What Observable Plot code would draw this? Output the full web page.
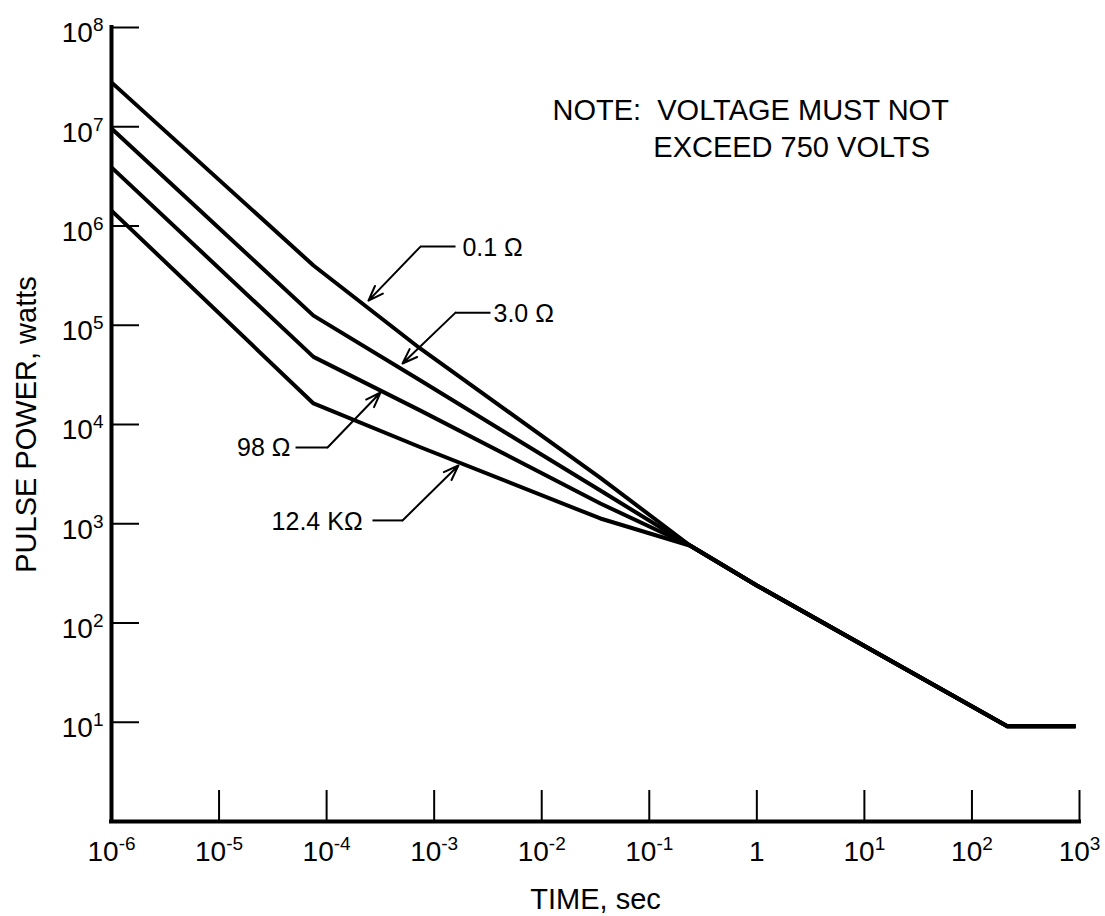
<!DOCTYPE html>
<html>
<head>
<meta charset="utf-8">
<script src="https://cdn.jsdelivr.net/npm/d3@7"></script>
<script src="https://cdn.jsdelivr.net/npm/@observablehq/plot@0.6"></script>
<style>
  body { margin: 0; background: #fff; }
  svg { font-family: "Liberation Sans", Arial, Helvetica, sans-serif; }
</style>
</head>
<body>
<div id="chart"></div>
<script>
// ---- data ----
const seriesNames = ["0.1 Ω", "3.0 Ω", "98 Ω", "12.4 KΩ"];
const times = [1e-6, 7.55e-5, 7.46e-4, 3.51e-2, 0.241, 1, 213, 919];
const power01 = [2.8e7, 4.0e5, 5.8e4, 2.9e3, 600, 239, 9.1, 9.1];
const power30 = [9.6e6, 1.25e5, 2.77e4, 2.16e3, 600, 239, 9.1, 9.1];
const power98 = [3.9e6, 4.8e4, 1.38e4, 1.6e3, 600, 239, 9.1, 9.1];
const power124k = [1.43e6, 1.63e4, 5.9e3, 1.13e3, 600, 239, 9.1, 9.1];

const xTicks = [1e-6, 1e-5, 1e-4, 1e-3, 1e-2, 1e-1, 1, 1e1, 1e2, 1e3];
const xTickLabels = ["10^-6", "10^-5", "10^-4", "10^-3", "10^-2", "10^-1", "1", "10^1", "10^2", "10^3"];
const yTicks = [1e1, 1e2, 1e3, 1e4, 1e5, 1e6, 1e7, 1e8];
const yTickLabels = ["10^1", "10^2", "10^3", "10^4", "10^5", "10^6", "10^7", "10^8"];

// curve labels and leader lines (data coordinates)
const labelX = [1.83e-3, 3.56e-3, 4.61e-5, 2.16e-4];
const labelY = [6.07e5, 1.31e5, 5.86e3, 1.03e3];
const labelSide = ["right", "right", "left", "left"];
const leaderStartX = [1.58e-3, 3.34e-3, 5.14e-5, 2.67e-4];
const leaderKneeX = [7.46e-4, 1.58e-3, 1.02e-4, 5.08e-4];
const leaderY = [6.2e5, 1.34e5, 5.86e3, 1.08e3];
const tipX = [2.45e-4, 5.08e-4, 3.17e-4, 1.68e-3];
const tipY = [1.77e5, 4.12e4, 2.1e4, 3.86e3];

const noteLines = ["NOTE:  VOLTAGE MUST NOT", "EXCEED 750 VOLTS"];
const noteX = [1.26e-2, 0.109];
const noteY = [1.46e7, 6.18e6];

const xTitle = "TIME, sec";
const yTitle = "PULSE POWER, watts";

// ---- tables ----
const seriesValues = [power01, power30, power98, power124k];
const curves = seriesNames.flatMap((s, i) => times.map((t, j) => ({s, t, p: seriesValues[i][j]})));
const labels = seriesNames.map((s, i) => ({
  s, x: labelX[i], y: labelY[i], side: labelSide[i],
  sx: leaderStartX[i], kx: leaderKneeX[i], ly: leaderY[i], tx: tipX[i], ty: tipY[i]
}));
const notes = noteLines.map((text, i) => ({text, x: noteX[i], y: noteY[i]}));
const xFmt = new Map(xTicks.map((t, i) => [t, xTickLabels[i]]));
const yFmt = new Map(yTicks.map((t, i) => [t, yTickLabels[i]]));

const chart = Plot.plot({
  width: 1105,
  height: 916,
  marginLeft: 111,
  marginRight: 26,
  marginTop: 27,
  marginBottom: 95,
  style: {background: "#fff", color: "#000", fontFamily: '"Liberation Sans", Arial, Helvetica, sans-serif'},
  x: {type: "log", domain: [1e-6, 1e3], axis: null},
  y: {type: "log", domain: [1, 1e8], axis: null},
  marks: [
    // inward tick marks
    Plot.axisX({ticks: xTicks, tickSize: 31, dy: -31, fill: "none", strokeWidth: 2}),
    Plot.axisY({ticks: yTicks, tickSize: 28, dx: 28, fill: "none", strokeWidth: 2}),
    // tick labels
    Plot.axisX({ticks: xTicks, tickSize: 0, tickPadding: 20, tickFormat: d => xFmt.get(d), fontSize: 28, label: null}),
    Plot.axisY({ticks: yTicks, tickSize: 0, tickPadding: 8, tickFormat: d => yFmt.get(d), fontSize: 28, dy: 6, label: null}),
    // axis lines
    Plot.ruleX([1e-6], {stroke: "black", strokeWidth: 4, strokeLinecap: "square"}),
    Plot.ruleY([1], {stroke: "black", strokeWidth: 4, strokeLinecap: "square"}),
    // curves
    Plot.line(curves, {x: "t", y: "p", z: "s", stroke: "black", strokeWidth: 4, strokeLinejoin: "round", strokeLinecap: "butt"}),
    // leaders
    Plot.link(labels, {x1: "sx", y1: "ly", x2: "kx", y2: "ly", stroke: "black", strokeWidth: 2}),
    Plot.arrow(labels, {x1: "kx", y1: "ly", x2: "tx", y2: "ty", stroke: "black", strokeWidth: 2, headLength: 12, headAngle: 40}),
    Plot.text(labels, {filter: d => d.side === "right", x: "x", y: "y", text: "s", textAnchor: "start", fontSize: 25, fill: "black"}),
    Plot.text(labels, {filter: d => d.side === "left", x: "x", y: "y", text: "s", textAnchor: "end", fontSize: 25, fill: "black"}),
    // note
    Plot.text(notes, {x: "x", y: "y", text: "text", textAnchor: "start", lineAnchor: "middle", fontSize: 29, fill: "black"}),
    // axis titles
    Plot.text([xTitle], {text: d => d, frameAnchor: "bottom", textAnchor: "middle", lineAnchor: "middle", dy: 78, fontSize: 29, fill: "black"}),
    Plot.text([yTitle], {text: d => d, frameAnchor: "left", textAnchor: "middle", lineAnchor: "middle", rotate: -90, dx: -85, fontSize: 29, fill: "black"})
  ]
});

// superscripts for the power-of-ten tick labels
const ns = "http://www.w3.org/2000/svg";
chart.querySelectorAll('g[aria-label$="tick label"] text').forEach(t => {
  const s = t.textContent;
  if (!s.includes("^")) return;
  const [base, exp] = s.split("^");
  t.textContent = "";
  const a = document.createElementNS(ns, "tspan");
  a.textContent = base;
  const b = document.createElementNS(ns, "tspan");
  b.textContent = exp;
  b.setAttribute("font-size", "19");
  b.setAttribute("dy", "-11");
  t.appendChild(a);
  t.appendChild(b);
});

document.getElementById("chart").appendChild(chart);
</script>
</body>
</html>
